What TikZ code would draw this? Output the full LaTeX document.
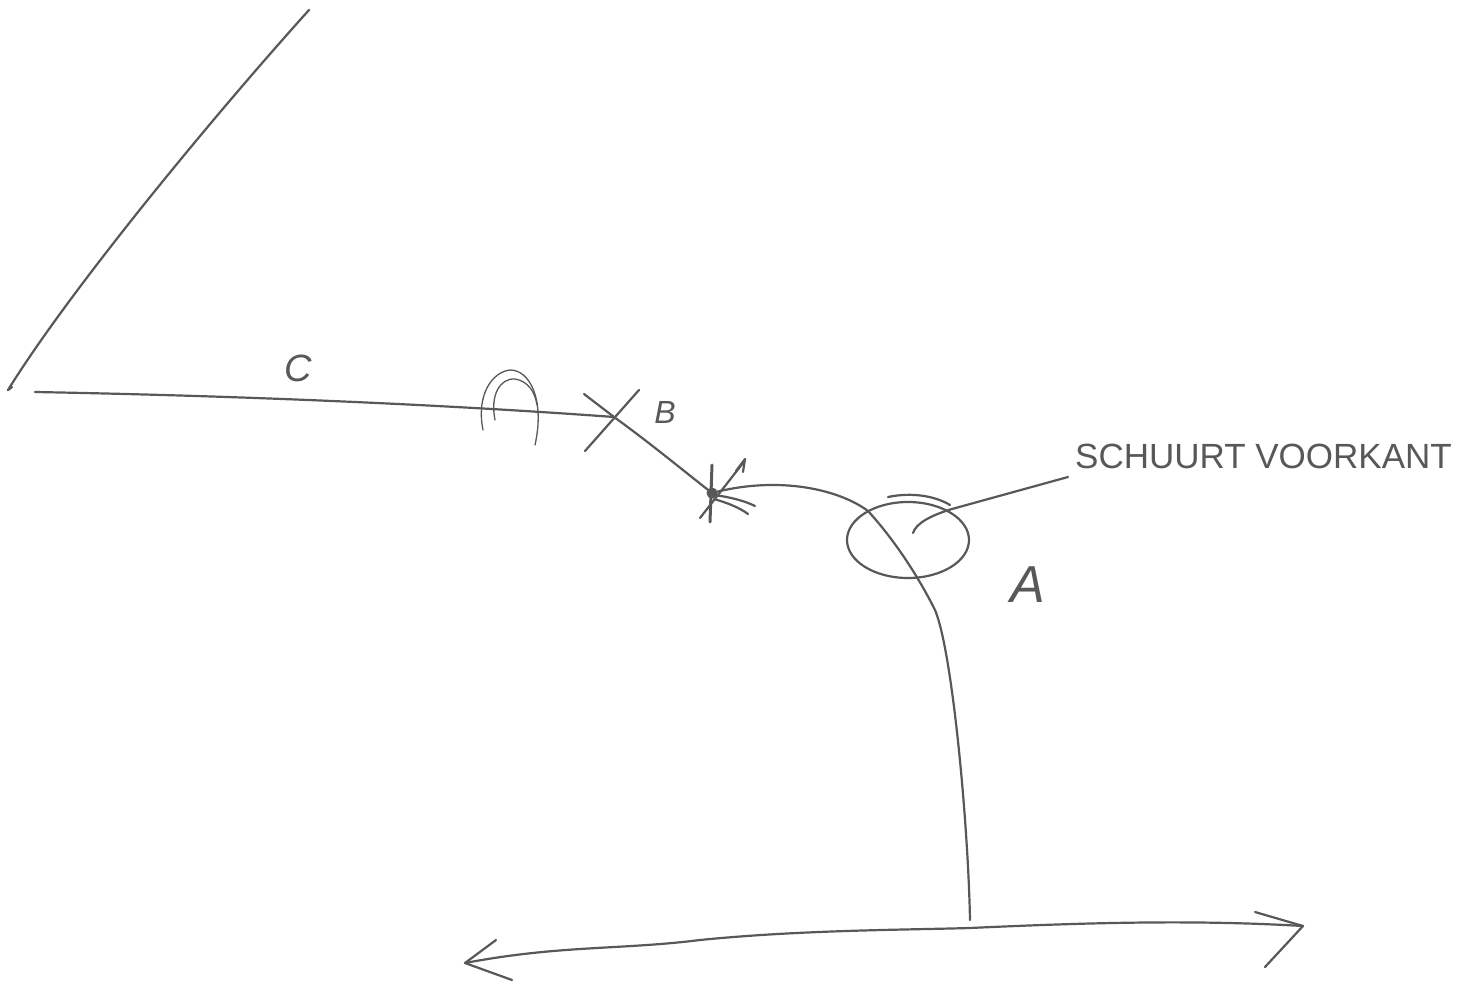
\documentclass[tikz,border=0pt]{standalone}
\usepackage{fontspec}
\setmainfont{Liberation Sans}
\definecolor{ink}{RGB}{88,88,88}
\tikzset{
  stroke/.style={draw=ink, line width=2.2pt, line cap=round, line join=round},
  thin stroke/.style={draw=ink, line width=1.3pt, line cap=round, line join=round},
  hand/.style={text=ink, font=\itshape, inner sep=0pt}
}
\begin{document}
\begin{tikzpicture}[x=1pt,y=-1pt]
\fill[white] (0,0) rectangle (1474,987);
\useasboundingbox (0,0) rectangle (1474,987);

% named points
\coordinate (topEnd) at (309,10);
\coordinate (cornerL) at (8,390);
\coordinate (lineStart) at (35,392);
\coordinate (B) at (614,417);
\coordinate (star) at (712,493);
\coordinate (enter) at (868,511);
\coordinate (mid) at (935,610);
\coordinate (footA) at (970,920);
\coordinate (arrL) at (465,963);
\coordinate (arrM) at (970,928);
\coordinate (arrR) at (1303,926);
\coordinate (inner) at (913,533);
\coordinate (leadEnd) at (1068,477);

% labels
\node[hand, font=\itshape\fontsize{38}{42}\selectfont] (labC) at (298,368) {C};
\node[hand, font=\itshape\fontsize{32}{36}\selectfont] (labB) at (665,412) {B};
\node[hand, font=\itshape\fontsize{52}{56}\selectfont] (labA) at (1028,585) {A};
\node[hand, font=\fontsize{35}{40}\selectfont, anchor=west] (note) at (1075,456) {SCHUURT VOORKANT};

% top oblique line
\draw[stroke] (topEnd) .. controls (210,120) and (70,290) .. (cornerL) -- (12,387);

% line C to B
\draw[stroke] (lineStart) .. controls (250,396) and (450,405) .. (B);

% loop on line C
\draw[thin stroke] (483,430) .. controls (476,395) and (492,372) .. (510,370) .. controls (530,370) and (545,400) .. (535,445);
\draw[thin stroke] (495,420) .. controls (490,395) and (500,378) .. (515,379) .. controls (528,381) and (535,392) .. (537,405);

% cross at B
\draw[stroke] (584,394) -- (B);
\draw[stroke] (639,390) -- (585,451);
\draw[stroke] (B) .. controls (650,443) and (680,468) .. (star);

% star
\draw[stroke, line width=3pt] (712,465) -- (710,522);
\draw[stroke] (700,518) -- (743,463);
\draw[stroke] (736,471) -- (745,459) -- (743,472);
\draw[stroke] (714,495) .. controls (730,497) and (745,501) .. (755,506);
\draw[stroke] (714,499) .. controls (728,503) and (740,508) .. (748,514);
\fill[ink] (star) circle (5.5);

% main curve A
\draw[stroke] (star) .. controls (780,475) and (840,490) .. (enter)
  .. controls (890,535) and (915,570) .. (mid)
  .. controls (952,650) and (968,820) .. (footA);

% ellipse
\draw[stroke] (908,540) ellipse [x radius=61, y radius=38];
\draw[stroke] (888,497) .. controls (912,492) and (935,496) .. (950,505);

% leader to note
\draw[stroke] (inner) .. controls (916,523) and (932,515) .. (952,509) -- (leadEnd);

% bottom double arrow
\draw[stroke] (arrL) .. controls (560,945) and (620,950) .. (700,940)
  .. controls (800,930) and (900,930) .. (arrM)
  .. controls (1100,922) and (1200,920) .. (arrR);
\draw[stroke] (496,940) -- (arrL) -- (512,980);
\draw[stroke] (1255,912) -- (arrR) -- (1265,967);
\end{tikzpicture}
\end{document}
